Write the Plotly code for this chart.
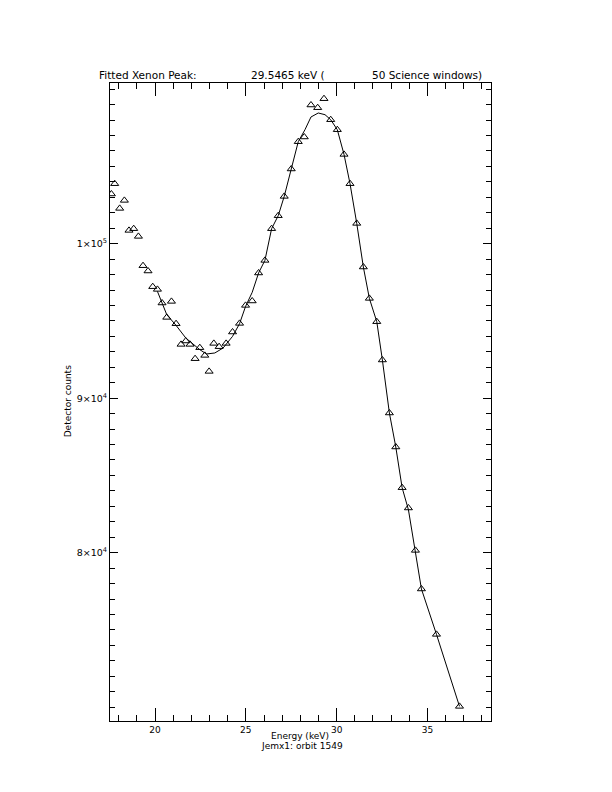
import plotly.graph_objects as go

# Measured spectrum (energy in keV, detector counts)
energy = [17.596, 17.778, 18.053, 18.312, 18.566, 18.825, 19.085, 19.338, 19.614, 19.873,
          20.132, 20.386, 20.645, 20.904, 21.158, 21.434, 21.693, 21.930, 22.206, 22.465,
          22.741, 22.978, 23.237, 23.529, 23.915, 24.268, 24.654, 24.985, 25.349, 25.702,
          26.050, 26.419, 26.783, 27.114, 27.500, 27.886, 28.217, 28.587, 28.956, 29.303,
          29.673, 30.037, 30.406, 30.737, 31.107, 31.471, 31.802, 32.210, 32.519, 32.905,
          33.257, 33.605, 33.952, 34.339, 34.669, 35.497, 36.765]
counts = [103217, 103883, 102285, 102802, 100861, 100971, 100472, 98576, 98233, 97217,
          97042, 96162, 95230, 96266, 94822, 93483, 93703, 93483, 92557, 93269,
          92771, 91735, 93547, 93334, 93547, 94285, 94842, 96007, 96292, 98104,
          98919, 100971, 101812, 103061, 104835, 106601, 106906, 108977, 108802, 109384,
          108025, 107378, 105779, 103883, 101314, 98492, 96460, 94952, 92473, 89043,
          86843, 84208, 82894, 80150, 77652, 74714, 70054]

# Fitted model curve
fit_energy = [20.132, 20.386, 20.645, 21.158, 21.693, 22.465, 22.835, 23.292, 23.750, 24.268,
              24.654, 24.985, 25.349, 25.702, 26.050, 26.419, 26.783, 27.114, 27.500, 27.886,
              28.256, 28.587, 28.989, 29.359, 29.673, 30.037, 30.406, 30.737, 31.107, 31.471,
              31.802, 32.210, 32.519, 32.905, 33.257, 33.605, 33.952, 34.339, 34.669, 35.497,
              36.765]
fit_counts = [96913, 96201, 95405, 94712, 93897, 93140, 92861, 92926, 93250, 94000,
              94822, 95942, 96848, 98104, 98919, 100971, 101812, 103061, 104835, 106601,
              107378, 108200, 108459, 108349, 108025, 107378, 105779, 103883, 101314, 98492,
              96460, 94952, 92473, 89043, 86843, 84208, 82785, 80150, 77652, 74714,
              70054]

y_tick_vals = [80000, 90000, 100000]
y_tick_text = ["8×10<sup>4</sup>", "9×10<sup>4</sup>", "1×10<sup>5</sup>"]
x_tick_vals = [20, 25, 30, 35]
x_tick_text = ["20", "25", "30", "35"]

title_parts = ["Fitted Xenon Peak:", "29.5465 keV (", "50 Science windows)"]
x_title = "Energy (keV)"
x_subtitle = "Jemx1: orbit 1549"
y_title = "Detector counts"

# plot frame in pixels
L, R, T, B = 110.3, 490.7, 83.3, 721.3
W, H = 612, 792

def px(xp):
    return (xp - L) / (R - L)

def py(yp):
    return (B - yp) / (B - T)

FONT = "DejaVu Sans"
INK = "#000000"

fig = go.Figure()
fig.add_trace(go.Scatter(x=fit_energy, y=fit_counts, mode="lines",
                         line=dict(color=INK, width=1), showlegend=False,
                         hoverinfo="skip"))
fig.add_trace(go.Scatter(x=energy, y=counts, mode="markers",
                         marker=dict(symbol="triangle-up-open", size=7,
                                     color=INK, line=dict(width=1, color=INK)),
                         showlegend=False))

fig.update_layout(
    width=W, height=H,
    margin=dict(l=L, r=W - R, t=T, b=H - B, pad=0),
    paper_bgcolor="white", plot_bgcolor="white",
    font=dict(family=FONT, size=9, color=INK),
)
fig.update_xaxes(range=[17.52, 38.5], showgrid=False, zeroline=False,
                 showline=True, linecolor=INK, linewidth=1, mirror="ticks",
                 ticks="inside", ticklen=13, tickwidth=1, tickcolor=INK,
                 tickvals=x_tick_vals, ticktext=x_tick_text,
                 tickfont=dict(family=FONT, size=9, color=INK),
                 minor=dict(dtick=1, tick0=0, ticks="inside", ticklen=6, tickcolor=INK, tickwidth=1))
fig.update_yaxes(range=[69107, 110400], showgrid=False, zeroline=False,
                 showline=True, linecolor=INK, linewidth=1, mirror="ticks",
                 ticks="inside", ticklen=8, tickwidth=1, tickcolor=INK,
                 tickvals=y_tick_vals, ticktext=y_tick_text,
                 tickfont=dict(family=FONT, size=9.5, color=INK),
                 minor=dict(dtick=1000, tick0=0, ticks="inside", ticklen=5, tickcolor=INK, tickwidth=1))

ann = []
for txt, xl in zip(title_parts, [97, 249, 370]):
    ann.append(dict(text=txt, x=px(xl), y=py(75), xref="paper", yref="paper",
                    xanchor="left", yanchor="middle", showarrow=False,
                    font=dict(family=FONT, size=10.5, color=INK)))
ann.append(dict(text=x_title, x=px(300), y=py(736), xref="paper", yref="paper",
                xanchor="center", yanchor="middle", showarrow=False,
                font=dict(family=FONT, size=9, color=INK)))
ann.append(dict(text=x_subtitle, x=px(302), y=py(746), xref="paper", yref="paper",
                xanchor="center", yanchor="middle", showarrow=False,
                font=dict(family=FONT, size=9, color=INK)))
ann.append(dict(text=y_title, x=px(68), y=py(402), xref="paper", yref="paper",
                xanchor="center", yanchor="middle", showarrow=False, textangle=-90,
                font=dict(family=FONT, size=9, color=INK)))
fig.update_layout(annotations=ann)

fig.write_html("out.html", config={"displayModeBar": False},
               post_script="document.body.style.margin='0px';")
